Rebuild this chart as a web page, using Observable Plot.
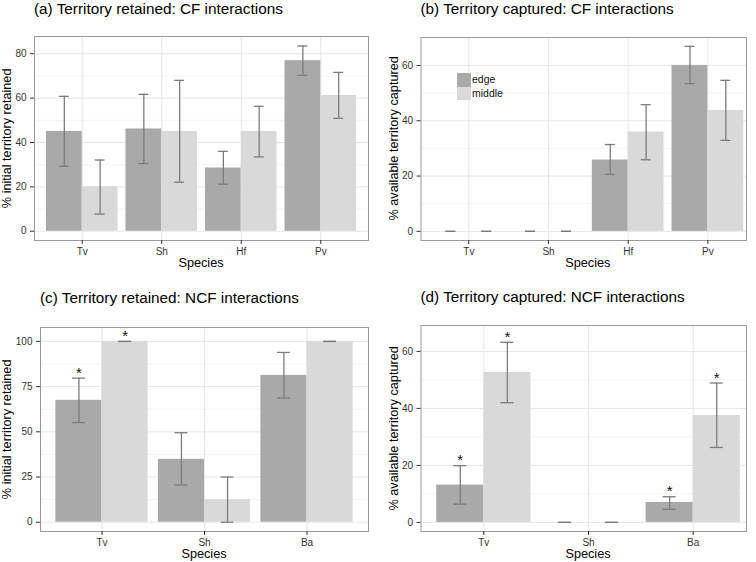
<!DOCTYPE html>
<html><head><meta charset="utf-8">
<script src="https://cdn.jsdelivr.net/npm/d3@7"></script>
<script src="https://cdn.jsdelivr.net/npm/@observablehq/plot@0.6"></script>
<style>
body{margin:0;background:#fff;}
#root{position:relative;width:756px;height:562px;overflow:hidden;font-family:"Liberation Sans",Arial,Helvetica,sans-serif;background:#fff;}
.panel{position:absolute;width:378px;height:281px;}
.panel svg{display:block;overflow:visible;}
.key{position:absolute;width:13.4px;height:13.3px;}
.ktxt{position:absolute;font-size:10.5px;line-height:13.3px;color:#111;white-space:nowrap;}
.lbl{position:absolute;white-space:nowrap;color:#000;font-family:"Liberation Sans",Arial,Helvetica,sans-serif;}
</style></head><body><div id="root"></div>
<script>
// ---- data ----
const groups = ["edge", "middle"];
const speciesCF = ["Tv", "Sh", "Hf", "Pv"];
const speciesNCF = ["Tv", "Sh", "Ba"];

// (a) Territory retained: CF interactions
const aEdge   = [45.0, 46.1, 28.5, 76.9];
const aEdgeLo = [29.3, 30.5, 21.2, 70.3];
const aEdgeHi = [60.8, 61.7, 36.0, 83.5];
const aMid    = [20.0, 45.0, 45.0, 61.2];
const aMidLo  = [7.7, 22.1, 33.5, 50.9];
const aMidHi  = [32.1, 68.0, 56.3, 71.6];
const aStarEdge = [false, false, false, false];
const aStarMid  = [false, false, false, false];
const aTicks = [0, 20, 40, 60, 80];
const aMinor = [10, 30, 50, 70];

// (b) Territory captured: CF interactions
const bEdge   = [0, 0, 25.8, 60.0];
const bEdgeLo = [0, 0, 20.6, 53.4];
const bEdgeHi = [0, 0, 31.4, 66.9];
const bMid    = [0, 0, 35.9, 43.7];
const bMidLo  = [0, 0, 25.9, 32.9];
const bMidHi  = [0, 0, 45.8, 54.6];
const bStarEdge = [false, false, false, false];
const bStarMid  = [false, false, false, false];
const bTicks = [0, 20, 40, 60];
const bMinor = [10, 30, 50];

// (c) Territory retained: NCF interactions
const cEdge   = [67.4, 34.8, 81.2];
const cEdgeLo = [55.1, 20.6, 68.7];
const cEdgeHi = [79.7, 49.5, 93.9];
const cMid    = [100, 12.5, 100];
const cMidLo  = [100, 0, 100];
const cMidHi  = [100, 25.0, 100];
const cStarEdge = [true, false, false];
const cStarMid  = [true, false, false];
const cTicks = [0, 25, 50, 75, 100];
const cMinor = [12.5, 37.5, 62.5, 87.5];

// (d) Territory captured: NCF interactions
const dEdge   = [13.1, 0, 7.0];
const dEdgeLo = [6.4, 0, 4.6];
const dEdgeHi = [19.9, 0, 9.0];
const dMid    = [52.6, 0, 37.5];
const dMidLo  = [42.0, 0, 26.3];
const dMidHi  = [63.2, 0, 48.9];
const dStarEdge = [true, false, true];
const dStarMid  = [true, false, true];
const dTicks = [0, 20, 40, 60];
const dMinor = [10, 30, 50];

const xTitle = "Species";

// ---- style ----
const FONT = '"Liberation Sans", Arial, Helvetica, sans-serif';
const EDGE = "#a9a9a9", MID = "#d9d9d9", ERR = "#7c7c7c";
const W = 378, H = 281;
const root = document.getElementById("root");

function addLabel(text, fs, opts) {
  const d = document.createElement("div");
  d.className = "lbl";
  d.textContent = text;
  d.style.fontSize = fs + "px";
  d.style.lineHeight = fs + "px";
  d.style.height = fs + "px";
  const asc = 0.8465 * fs; // baseline offset inside a 1em line box
  if (opts.rotate) {
    const cx = opts.baseX - (asc - fs / 2);
    d.style.width = "300px";
    d.style.textAlign = "center";
    d.style.left = (cx - 150) + "px";
    d.style.top = (opts.cy - fs / 2) + "px";
    d.style.transform = "rotate(-90deg)";
  } else if (opts.center) {
    d.style.width = "300px";
    d.style.textAlign = "center";
    d.style.left = (opts.cx - 150) + "px";
    d.style.top = (opts.baseY - asc) + "px";
  } else {
    d.style.left = opts.x + "px";
    d.style.top = (opts.baseY - asc) + "px";
  }
  root.appendChild(d);
}

function makePanel(cfg) {
  const n = cfg.species.length;
  const r0 = cfg.xrange || [cfg.ml, W - cfg.mr];
  const step = (r0[1] - r0[0]) / (n + 0.2);
  const bw = 0.9 * step, half = bw / 2, q = bw / 4, cap = 0.125 * step;
  const rows = [];
  cfg.species.forEach((s, i) => {
    rows.push({species: s, group: groups[0], v: cfg.edge[i], lo: cfg.edgeLo[i], hi: cfg.edgeHi[i], star: cfg.starEdge[i]});
    rows.push({species: s, group: groups[1], v: cfg.mid[i], lo: cfg.midLo[i], hi: cfg.midHi[i], star: cfg.starMid[i]});
  });
  const E = rows.filter(d => d.group === "edge");
  const M = rows.filter(d => d.group === "middle");
  const errOpts = {stroke: ERR, strokeWidth: 1.3};
  const plot = Plot.plot({
    width: W, height: H,
    marginLeft: cfg.ml, marginRight: cfg.mr, marginTop: cfg.mt, marginBottom: cfg.mb,
    style: {fontFamily: FONT, background: "transparent", overflow: "visible"},
    x: {domain: cfg.species, range: r0, paddingInner: 0.1, paddingOuter: 0.15, round: false},
    y: {domain: cfg.ydomain},
    marks: [
      Plot.gridY(cfg.minor, {stroke: "#f4f4f4", strokeOpacity: 1, strokeWidth: 1}),
      Plot.gridY(cfg.ticks, {stroke: "#e6e6e6", strokeOpacity: 1, strokeWidth: 1}),
      Plot.gridX({stroke: "#e6e6e6", strokeOpacity: 1, strokeWidth: 1}),
      Plot.barY(E, {x: "species", y1: 0, y2: "v", fill: EDGE, insetRight: half}),
      Plot.barY(M, {x: "species", y1: 0, y2: "v", fill: MID, insetLeft: half}),
      Plot.ruleX(E, {x: "species", y1: "lo", y2: "hi", dx: -q, ...errOpts}),
      Plot.ruleX(M, {x: "species", y1: "lo", y2: "hi", dx: q, ...errOpts}),
      Plot.tickY(E, {x: "species", y: "hi", insetLeft: q - cap / 2, insetRight: bw - q - cap / 2, ...errOpts}),
      Plot.tickY(E, {x: "species", y: "lo", insetLeft: q - cap / 2, insetRight: bw - q - cap / 2, ...errOpts}),
      Plot.tickY(M, {x: "species", y: "hi", insetLeft: 3 * q - cap / 2, insetRight: q - cap / 2, ...errOpts}),
      Plot.tickY(M, {x: "species", y: "lo", insetLeft: 3 * q - cap / 2, insetRight: q - cap / 2, ...errOpts}),
      Plot.text(E.filter(d => d.star), {x: "species", y: "hi", text: () => "*", dx: -q, dy: -0.5, lineAnchor: "bottom", fontSize: 15, fill: "#111"}),
      Plot.text(M.filter(d => d.star), {x: "species", y: "hi", text: () => "*", dx: q, dy: -0.5, lineAnchor: "bottom", fontSize: 15, fill: "#111"}),
      Plot.frame({stroke: "#9a9a9a", strokeWidth: 1}),
      Plot.axisY(cfg.ticks, {tickSize: 4, tickPadding: 4, fontSize: 10, label: null, color: "#333"}),
      Plot.axisX({tickSize: 4, tickPadding: 3, fontSize: 10, label: null, color: "#333"})
    ]
  });
  const div = document.createElement("div");
  div.className = "panel";
  div.style.left = cfg.left + "px";
  div.style.top = cfg.top + "px";
  div.appendChild(plot);
  root.appendChild(div);

  addLabel(cfg.title, 15.3, {x: cfg.left + cfg.ml, baseY: cfg.top + cfg.titleY});
  addLabel(xTitle, 12.7, {center: true, cx: cfg.left + (r0[0] + r0[1]) / 2, baseY: cfg.top + H - cfg.mb + 27.3});
  addLabel(cfg.ylabel, 12.7, {rotate: true, baseX: cfg.left + cfg.ylabX, cy: cfg.top + (cfg.mt + H - cfg.mb) / 2});
}

makePanel({
  title: "(a) Territory retained: CF interactions", ylabel: "% initial territory retained",
  species: speciesCF, edge: aEdge, edgeLo: aEdgeLo, edgeHi: aEdgeHi, mid: aMid, midLo: aMidLo, midHi: aMidHi,
  starEdge: aStarEdge, starMid: aStarMid, ticks: aTicks, minor: aMinor, ydomain: [-4.18, 87.78],
  ml: 34, mr: 10, mt: 36, mb: 41, titleY: 13.5, ylabX: 11.8, left: 0, top: 0
});
makePanel({
  title: "(b) Territory captured: CF interactions", ylabel: "% available territory captured",
  species: speciesCF, edge: bEdge, edgeLo: bEdgeLo, edgeHi: bEdgeHi, mid: bMid, midLo: bMidLo, midHi: bMidHi,
  starEdge: bStarEdge, starMid: bStarMid, ticks: bTicks, minor: bMinor, ydomain: [-3.3, 70.1],
  ml: 42.5, mr: 10, mt: 37, mb: 41, xrange: [42.5, 377.2], titleY: 13.5, ylabX: 20.5, left: 378, top: 0
});
makePanel({
  title: "(c) Territory retained: NCF interactions", ylabel: "% initial territory retained",
  species: speciesNCF, edge: cEdge, edgeLo: cEdgeLo, edgeHi: cEdgeHi, mid: cMid, midLo: cMidLo, midHi: cMidHi,
  starEdge: cStarEdge, starMid: cStarMid, ticks: cTicks, minor: cMinor, ydomain: [-5.13, 107.7],
  ml: 40, mr: 10, mt: 46, mb: 31, titleY: 22, ylabX: 11.8, left: 0, top: 281
});
makePanel({
  title: "(d) Territory captured: NCF interactions", ylabel: "% available territory captured",
  species: speciesNCF, edge: dEdge, edgeLo: dEdgeLo, edgeHi: dEdgeHi, mid: dMid, midLo: dMidLo, midHi: dMidHi,
  starEdge: dStarEdge, starMid: dStarMid, ticks: dTicks, minor: dMinor, ydomain: [-3.2, 69.1],
  ml: 42.5, mr: 10, mt: 44, mb: 31, xrange: [42.5, 377.5], titleY: 21, ylabX: 20.5, left: 378, top: 281
});

// legend inside panel (b)
[[groups[0], EDGE, 73.3], [groups[1], MID, 86.6]].forEach(([label, color, y]) => {
  const k = document.createElement("div");
  k.className = "key"; k.style.left = "457.3px"; k.style.top = y + "px"; k.style.background = color;
  root.appendChild(k);
  const t = document.createElement("div");
  t.className = "ktxt"; t.style.left = "472px"; t.style.top = y + "px"; t.textContent = label;
  root.appendChild(t);
});
</script>
</body></html>
